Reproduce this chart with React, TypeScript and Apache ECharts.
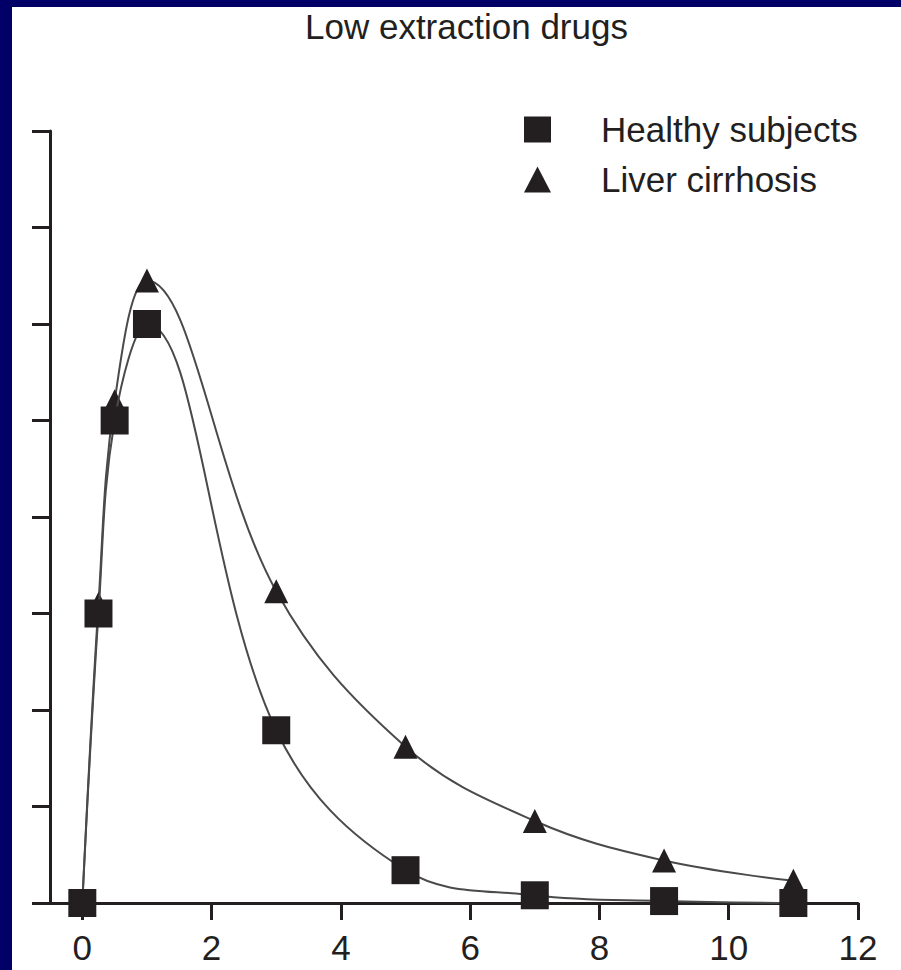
import React, { useEffect, useRef } from 'react';
import * as echarts from 'echarts';

const chartTitle = 'Low extraction drugs';
const seriesNames = ['Healthy subjects', 'Liver cirrhosis'];
const timePoints = [0, 0.25, 0.5, 1, 3, 5, 7, 9, 11];
const healthyValues = [0, 3, 5, 6, 1.79, 0.34, 0.08, 0.02, 0];
const cirrhosisValues = [0, 3.1, 5.2, 6.45, 3.23, 1.62, 0.85, 0.44, 0.23];
const xTickValues = [0, 2, 4, 6, 8, 10, 12];

const INK = '#231f20';
const FONT = '"Liberation Sans", Arial, Helvetica, sans-serif';

export default function App() {
  const ref = useRef<HTMLDivElement>(null);

  useEffect(() => {
    document.body.style.margin = '0';
    if (!ref.current) return;
    const chart = echarts.init(ref.current, undefined, { renderer: 'svg' });
    const textBase = { color: INK, fontFamily: FONT, fontSize: 35, lineHeight: 35 };
    chart.setOption({
      animation: false,
      backgroundColor: '#ffffff',
      title: {
        text: chartTitle,
        left: 293,
        top: 2,
        padding: 0,
        textStyle: { ...textBase, fontWeight: 'normal' },
      },
      legend: {
        orient: 'vertical',
        left: 512,
        top: 105,
        padding: 0,
        itemWidth: 27,
        itemHeight: 26,
        itemGap: 15,
        data: [
          { name: seriesNames[0], icon: 'rect' },
          { name: seriesNames[1], icon: 'triangle' },
        ],
        textStyle: { ...textBase, padding: [0, 0, 0, 45] },
      },
      grid: { left: 38, right: 43, top: 124, bottom: 67 },
      xAxis: {
        type: 'value',
        min: -0.5,
        max: 12,
        splitLine: { show: false },
        axisLine: { show: true, lineStyle: { color: INK, width: 3 } },
        axisTick: { show: true, customValues: xTickValues, length: 17, lineStyle: { color: INK, width: 3 } },
        axisLabel: { customValues: xTickValues, margin: 27, ...textBase },
      },
      yAxis: {
        type: 'value',
        min: 0,
        max: 8,
        interval: 1,
        splitLine: { show: false },
        axisLine: { show: true, onZero: false, lineStyle: { color: INK, width: 3 } },
        axisTick: { show: true, length: 18, lineStyle: { color: INK, width: 3 } },
        axisLabel: { show: false },
      },
      series: [
        {
          type: 'line',
          name: seriesNames[1],
          data: timePoints.map((t, i) => [t, cirrhosisValues[i]]),
          smooth: 0.38,
          symbol: 'triangle',
          symbolSize: 24,
          showAllSymbol: true,
          itemStyle: { color: INK },
          lineStyle: { color: '#4a4a4a', width: 2 },
          z: 2,
        },
        {
          type: 'line',
          name: seriesNames[0],
          data: timePoints.map((t, i) => [t, healthyValues[i]]),
          smooth: 0.38,
          symbol: 'rect',
          symbolSize: 28,
          showAllSymbol: true,
          itemStyle: { color: INK },
          lineStyle: { color: '#4a4a4a', width: 2 },
          z: 3,
        },
      ],
    });
    return () => chart.dispose();
  }, []);

  return (
    <div style={{ width: 901, height: 970, background: '#000066', paddingLeft: 12, paddingTop: 7, boxSizing: 'border-box' }}>
      <div ref={ref} style={{ width: 889, height: 963, background: '#ffffff' }} />
    </div>
  );
}
